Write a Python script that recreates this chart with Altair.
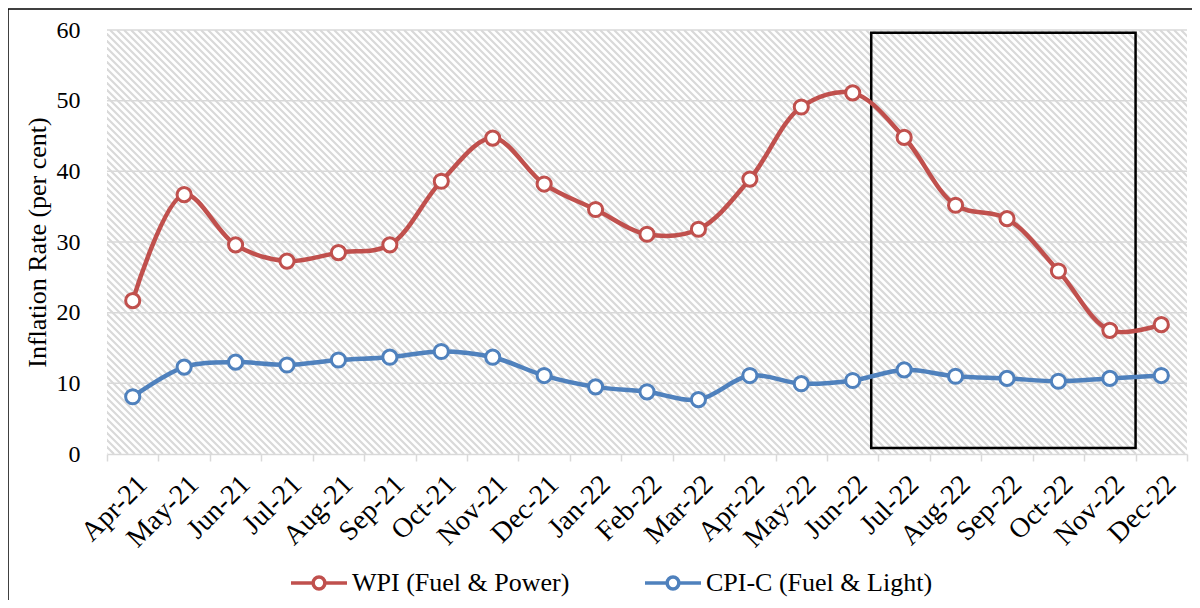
import altair as alt
import pandas as pd

months = ["Apr-21", "May-21", "Jun-21", "Jul-21", "Aug-21", "Sep-21", "Oct-21",
          "Nov-21", "Dec-21", "Jan-22", "Feb-22", "Mar-22", "Apr-22", "May-22",
          "Jun-22", "Jul-22", "Aug-22", "Sep-22", "Oct-22", "Nov-22", "Dec-22"]
wpi = [21.7, 36.7, 29.6, 27.3, 28.5, 29.6, 38.6, 44.7, 38.2, 34.6, 31.1, 31.8,
       38.9, 49.1, 51.1, 44.8, 35.2, 33.3, 25.9, 17.5, 18.3]
cpi = [8.1, 12.3, 13.0, 12.6, 13.3, 13.7, 14.5, 13.7, 11.1, 9.5, 8.8, 7.7,
       11.1, 9.95, 10.4, 11.9, 11.0, 10.7, 10.3, 10.7, 11.1]
series_names = ["WPI (Fuel & Power)", "CPI-C (Fuel & Light)"]
series_colors = ["#c0504d", "#4f81bd"]
y_ticks = [0, 10, 20, 30, 40, 50, 60]
grid_values = [10, 20, 30, 40, 50, 60]
# highlighted window (Jul-22 .. Nov-22)
highlight = {"start": "Jun-22", "end": "Nov-22", "lo": 0.85, "hi": 59.6}

W, H = 1080, 424
FONT = "Liberation Serif"

rows = []
for m, v in zip(months, wpi):
    rows.append({"month": m, "series": series_names[0], "value": v})
for m, v in zip(months, cpi):
    rows.append({"month": m, "series": series_names[1], "value": v})
df = pd.DataFrame(rows)

# background hatch pattern (decoration)
step = 7
offs = list(range(-H, W + step, step))
stripes = pd.DataFrame({"sx": offs, "sx2": [o + H for o in offs],
                        "sy": [H] * len(offs), "sy2": [0] * len(offs)})

xscale = alt.Scale(domain=months, type="band", paddingInner=0, paddingOuter=0)
yscale = alt.Scale(domain=[0, 60], nice=False)

stripe_layer = alt.Chart(stripes).mark_rule(
    color="#d9d9d9", strokeWidth=2.2, clip=True
).encode(
    x=alt.X("sx:Q", scale=alt.Scale(domain=[0, W], nice=False, zero=False), axis=None),
    x2="sx2:Q",
    y=alt.Y("sy:Q", scale=alt.Scale(domain=[0, H], nice=False), axis=None),
    y2="sy2:Q",
)

legend_path = ("M-1,0L-0.21,0M0.21,0L1,0M-0.21,0A0.21,0.21,0,1,0,0.21,0"
               "A0.21,0.21,0,1,0,-0.21,0")

stroke_enc = alt.Stroke(
    "series:N",
    scale=alt.Scale(domain=series_names, range=series_colors),
    legend=alt.Legend(
        orient="none", legendX=182, legendY=523, direction="horizontal",
        title=None, symbolType=legend_path, symbolSize=3136,
        symbolStrokeWidth=3.5, labelFont=FONT, labelFontSize=26,
        labelColor="black", columnPadding=68, labelOffset=3, padding=0,
        labelLimit=400,
    ),
)

x_axis = alt.Axis(
    tickBand="extent", labelAngle=-45, labelAlign="right", labelBaseline="top",
    labelPadding=9, tickSize=7, tickColor="#d9d9d9", tickWidth=1.5,
    domainColor="#d9d9d9", domainWidth=1.5, grid=False, labelFont=FONT,
    labelFontSize=28, labelColor="black", title=None,
)
y_axis = alt.Axis(
    values=y_ticks, grid=False, ticks=False, domain=False, labelFont=FONT,
    labelFontSize=24, labelPadding=27, labelColor="black",
    title="Inflation Rate (per cent)", titleFont=FONT, titleFontSize=26,
    titleFontWeight="normal", titleColor="black", titleX=-70, titleY=H / 2,
    titleBaseline="middle", titleAngle=270,
)

grid = alt.Chart(pd.DataFrame({"g": grid_values})).mark_rule(
    color="#d9d9d9", strokeWidth=1.5
).encode(y=alt.Y("g:Q", scale=yscale, axis=y_axis))

base = alt.Chart(df)
lines = base.mark_line(interpolate="catmull-rom", strokeWidth=4.5).encode(
    x=alt.X("month:N", scale=xscale, axis=x_axis, sort=months),
    y=alt.Y("value:Q", scale=yscale, axis=y_axis),
    stroke=stroke_enc,
)
points = base.mark_point(
    shape="circle", size=200, fill="white", filled=False, opacity=1,
    strokeWidth=3,
).encode(
    x=alt.X("month:N", scale=xscale, axis=x_axis, sort=months),
    y=alt.Y("value:Q", scale=yscale, axis=y_axis),
    stroke=stroke_enc,
)

hl = pd.DataFrame([{"month": highlight["start"], "month_end": highlight["end"],
                    "lo": highlight["lo"], "hi": highlight["hi"]}])
box = alt.Chart(hl).mark_rect(fill=None, stroke="black", strokeWidth=2.5, filled=False).encode(
    x=alt.X("month:N", scale=xscale, axis=x_axis, bandPosition=0.86),
    x2=alt.X2("month_end", bandPosition=1),
    y=alt.Y("lo:Q", scale=yscale, axis=y_axis),
    y2="hi:Q",
)

dummy = pd.DataFrame({"a": [0]})
frame_top = alt.Chart(dummy).mark_rule(color="black", strokeWidth=1.5).encode(
    x=alt.value(-99), x2=alt.value(W + 5), y=alt.value(-21)
)
frame_left = alt.Chart(dummy).mark_rule(color="black", strokeWidth=1.5).encode(
    x=alt.value(-99), y=alt.value(-21), y2=alt.value(H + 150)
)

inner = alt.layer(grid, box, lines, points, frame_top, frame_left)

chart = alt.layer(stripe_layer, inner).resolve_scale(
    x="independent", y="independent"
).resolve_axis(x="independent", y="independent").properties(
    width=W, height=H,
    autosize=alt.AutoSizeParams(type="none"),
    padding={"left": 99, "top": 22, "right": 5, "bottom": 146},
    background="white",
).configure_view(stroke=None)

chart.save("out.html", embed_options={"renderer": "svg", "actions": False})
